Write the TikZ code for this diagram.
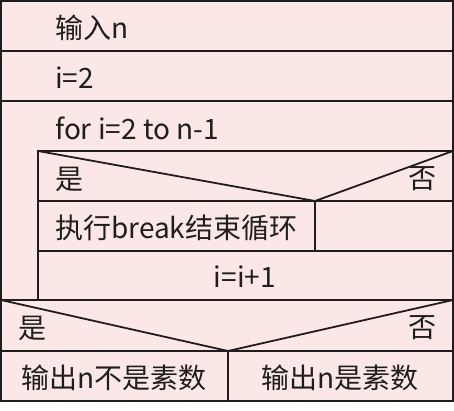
\documentclass[tikz,border=0pt]{standalone}
\usepackage{fontspec}
\setmainfont{Noto Sans CJK SC}
\definecolor{nsfill}{HTML}{FBE8E6}
\definecolor{nsline}{HTML}{1E1E1E}
\begin{document}
\begin{tikzpicture}[x=1pt,y=-1pt,
  nsline/.style={draw=nsline, line width=1.8pt},
  txt/.style={font=\fontsize{28}{31}\selectfont, inner sep=0pt, text=nsline}]
\useasboundingbox (0,0) rectangle (454,411);
\fill[white] (0,0) rectangle (454,411);
\fill[nsfill] (1,1) rectangle (453,401);
% rows
\draw[nsline] (1,51) -- (453,51);
\draw[nsline] (1,101) -- (453,101);
% inner loop body
\draw[nsline] (38,151) rectangle (453,300);
\draw[nsline] (38,151) -- (315,201) -- (453,151);
\draw[nsline] (38,201) -- (453,201);
\draw[nsline] (315,201) -- (315,251);
\draw[nsline] (38,251) -- (453,251);
% final decision
\draw[nsline] (1,300) -- (453,300);
\draw[nsline] (1,300) -- (228,351) -- (453,300);
\draw[nsline] (1,351) -- (453,351);
\draw[nsline] (228,351) -- (228,401);
% outer frame
\draw[nsline] (1,1) rectangle (453,401);
% texts
\node[txt, anchor=west] (t1) at (55,28) {输入n};
\node[txt, anchor=west] (t2) at (55,78) {i=2};
\node[txt, anchor=west] (t3) at (55,128) {for i=2 to n-1};
\node[txt, anchor=west] (y1) at (55,179) {是};
\node[txt, anchor=east] (n1) at (437,179) {否};
\node[txt, anchor=west] (t4) at (55,228) {执行break结束循环};
\node[txt] (t5) at (245,277) {i=i+1};
\node[txt, anchor=west] (y2) at (18,328) {是};
\node[txt, anchor=east] (n2) at (437,328) {否};
\node[txt] (t6) at (114,378) {输出n不是素数};
\node[txt] (t7) at (340,378) {输出n是素数};
\end{tikzpicture}
\end{document}
